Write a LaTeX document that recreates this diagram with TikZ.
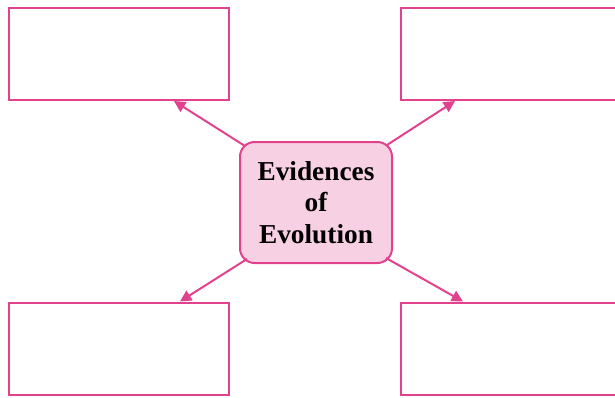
\documentclass[tikz,border=0pt]{standalone}
\usepackage{fontspec}
\setmainfont{Liberation Serif}
\usetikzlibrary{arrows.meta,calc}
\definecolor{rosa}{HTML}{E2418E}
\definecolor{rosafill}{HTML}{F7D1E3}
\tikzset{
    blank/.style={draw=rosa, line width=1.5pt, minimum width=165pt, minimum height=69pt, inner sep=0pt},
    topic/.style={draw=rosa, fill=rosafill, line width=1.5pt, rounded corners=11pt,
        minimum width=114pt, minimum height=90.75pt, align=center,
        font=\bfseries\fontsize{20.5}{23.6}\selectfont}
}
\begin{document}
\begin{tikzpicture}[x=0.75pt,y=-0.75pt,>={Triangle[length=8.5pt,width=8.5pt]}]
            \useasboundingbox (0,0) rectangle (615,397);
            \node[blank] (B_1) at (119,54) {};
            \node[blank] (B_2) at (511,54) {};
            \node[blank] (B_3) at (119,348.5) {};
            \node[blank] (B_4) at (511,348.5) {};
            \node[topic] (Ev) at (316,202.5) {Evidences\\of\\Evolution};
            \begin{scope}[->,draw=rosa,line width=1.5pt]
                \draw ($(Ev.north west)+(6,5)$) -- ($(B_1.south)+(55,0)$);
                \draw ($(Ev.north east)+(-6,4)$) -- ($(B_2.south)+(-56,0)$);
                \draw ($(Ev.south west)+(8,-5)$) -- ($(B_3.north)+(61,0)$);
                \draw ($(Ev.south east)+(-7,-6)$) -- ($(B_4.north)+(-48,0)$);
            \end{scope}
\end{tikzpicture}
\end{document}
